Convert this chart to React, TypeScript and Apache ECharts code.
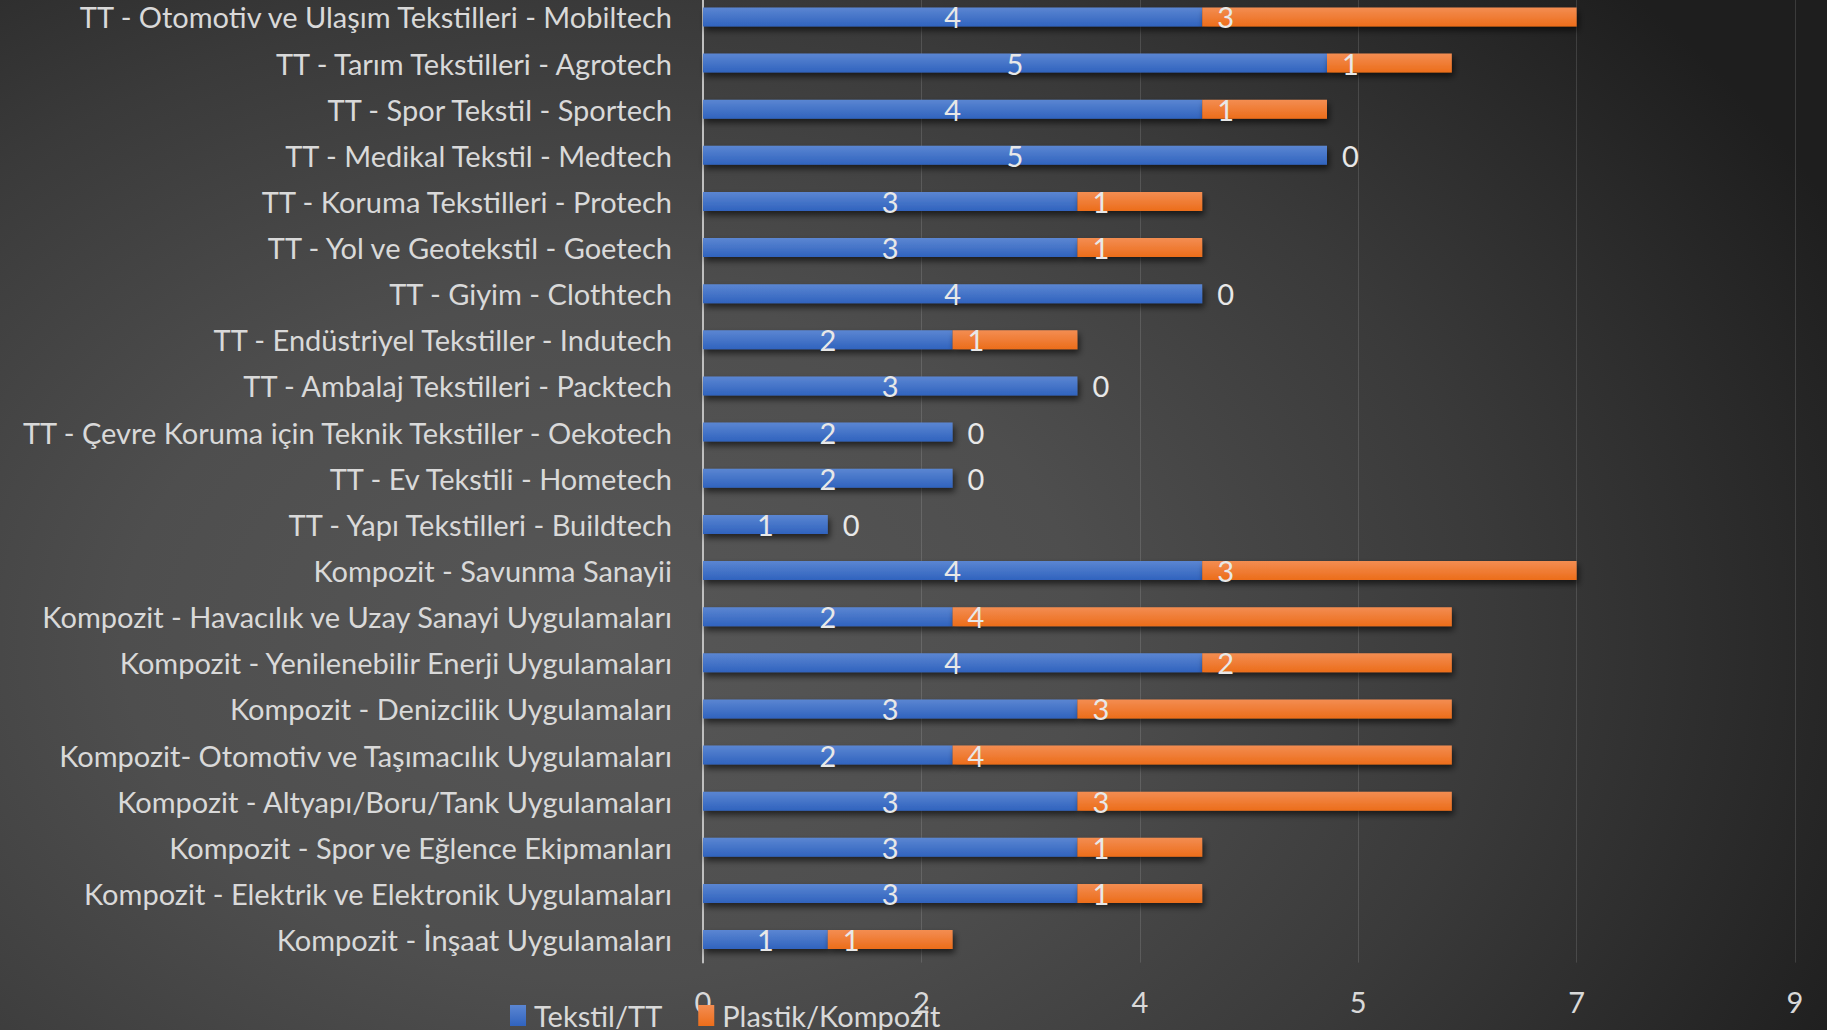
import React, { useEffect, useRef } from "react";
import * as echarts from "echarts";

const categories: string[] = [
  "TT - Otomotiv ve Ulaşım Tekstilleri - Mobiltech",
  "TT - Tarım Tekstilleri - Agrotech",
  "TT - Spor Tekstil - Sportech",
  "TT - Medikal Tekstil - Medtech",
  "TT - Koruma Tekstilleri - Protech",
  "TT - Yol ve Geotekstil - Goetech",
  "TT - Giyim - Clothtech",
  "TT - Endüstriyel Tekstiller - Indutech",
  "TT - Ambalaj Tekstilleri - Packtech",
  "TT - Çevre Koruma için Teknik Tekstiller - Oekotech",
  "TT - Ev Tekstili - Hometech",
  "TT - Yapı Tekstilleri - Buildtech",
  "Kompozit - Savunma Sanayii",
  "Kompozit - Havacılık ve Uzay Sanayi Uygulamaları",
  "Kompozit - Yenilenebilir Enerji Uygulamaları",
  "Kompozit - Denizcilik Uygulamaları",
  "Kompozit- Otomotiv ve Taşımacılık Uygulamaları",
  "Kompozit - Altyapı/Boru/Tank Uygulamaları",
  "Kompozit - Spor ve Eğlence Ekipmanları",
  "Kompozit - Elektrik ve Elektronik Uygulamaları",
  "Kompozit - İnşaat Uygulamaları",
];

const tekstilValues: number[] = [4, 5, 4, 5, 3, 3, 4, 2, 3, 2, 2, 1, 4, 2, 4, 3, 2, 3, 3, 3, 1];
const plastikValues: number[] = [3, 1, 1, 0, 1, 1, 0, 1, 0, 0, 0, 0, 3, 4, 2, 3, 4, 3, 1, 1, 1];

const seriesNames: string[] = ["Tekstil/TT", "Plastik/Kompozit"];

const axisMin = 0;
const axisMax = 8.75;
const axisInterval = 1.75;

const FONT = "Lato, 'Open Sans', sans-serif";
const TEXT = "#d9d9d9";
const FS = 29;

export default function App() {
  const ref = useRef<HTMLDivElement>(null);

  useEffect(() => {
    if (!ref.current) return;
    const chart = echarts.init(ref.current, undefined, { renderer: "svg" });
    const shadow = {
      shadowColor: "rgba(0,0,0,0.6)",
      shadowBlur: 6,
      shadowOffsetX: 2,
      shadowOffsetY: 4,
    };
    chart.setOption({
      animation: false,
      backgroundColor: "transparent",
      textStyle: { fontFamily: FONT },
      grid: { left: 703, right: 32, top: 13.9, bottom: 67.4, containLabel: false },
      legend: {
        data: seriesNames,
        left: 505,
        top: 1016,
        itemWidth: 16,
        itemHeight: 21,
        itemGap: 36,
        icon: "rect",
        textStyle: {
          color: TEXT,
          fontSize: FS,
          lineHeight: 26,
          fontFamily: FONT,
          padding: [0, 0, 0, 3],
        },
      },
      xAxis: {
        type: "value",
        min: axisMin,
        max: axisMax,
        interval: axisInterval,
        axisLine: { show: false },
        axisTick: { show: false },
        axisLabel: {
          color: TEXT,
          fontSize: FS,
          fontFamily: FONT,
          margin: 24,
          formatter: (v: number) => String(Math.round(v)),
        },
        splitLine: { show: true, lineStyle: { color: "rgba(255,255,255,0.13)", width: 1 } },
      },
      yAxis: {
        type: "category",
        data: categories,
        inverse: true,
        axisTick: { show: false },
        axisLine: { show: true, lineStyle: { color: "#bfbfbf", width: 2 } },
        axisLabel: { color: TEXT, fontSize: FS, fontFamily: FONT, margin: 31 },
        splitLine: { show: false },
      },
      series: [
        {
          name: seriesNames[0],
          type: "bar",
          stack: "total",
          barWidth: 19,
          data: tekstilValues,
          itemStyle: {
            color: {
              type: "linear",
              x: 0,
              y: 0,
              x2: 0,
              y2: 1,
              colorStops: [
                { offset: 0, color: "#5b86d2" },
                { offset: 1, color: "#3063be" },
              ],
            },
            ...shadow,
          },
          label: {
            show: true,
            position: "inside",
            color: "#e8e8e8",
            fontSize: FS,
            fontFamily: FONT,
          },
        },
        {
          name: seriesNames[1],
          type: "bar",
          stack: "total",
          barWidth: 19,
          data: plastikValues,
          itemStyle: {
            color: {
              type: "linear",
              x: 0,
              y: 0,
              x2: 0,
              y2: 1,
              colorStops: [
                { offset: 0, color: "#f38d52" },
                { offset: 1, color: "#ec6d1a" },
              ],
            },
            ...shadow,
          },
          label: {
            show: true,
            position: "insideLeft",
            distance: 15,
            color: "#e8e8e8",
            fontSize: FS,
            fontFamily: FONT,
          },
        },
      ],
    });
    return () => chart.dispose();
  }, []);

  return (
    <div
      style={{
        position: "absolute",
        left: 0,
        top: 0,
        width: 1827,
        height: 1030,
        overflow: "hidden",
        background:
          "radial-gradient(ellipse 75% 95% at 33% 62%, #575757 0%, #4e4e4e 35%, #3a3a3a 65%, #262626 90%, #1e1e1e 100%)",
      }}
    >
      <div ref={ref} style={{ position: "absolute", left: 0, top: -20, width: 1827, height: 1050 }} />
    </div>
  );
}
